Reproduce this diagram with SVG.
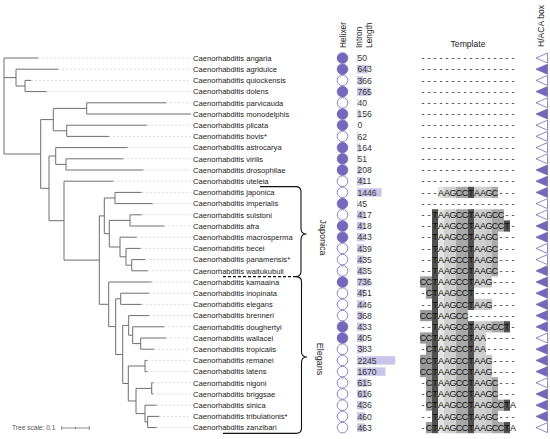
<svg xmlns="http://www.w3.org/2000/svg" xmlns:xlink="http://www.w3.org/1999/xlink" width="550" height="439" viewBox="0 0 550 439">
<style>
text{font-family:"Liberation Sans",Arial,sans-serif}
.nm{font-size:7.6px;fill:#222}
.num{font-size:8.6px;fill:#333}
.tp{font-size:9px;fill:#111;text-anchor:middle}
.hd{font-size:8.4px;fill:#222}
.lbl{font-size:9px;fill:#222;text-anchor:middle}
.bar{fill:#c8c5e8}
.tree{stroke:#6e6e6e;fill:none;stroke-width:1}
.lead{stroke:#c8c8c8;fill:none;stroke-width:0.7;stroke-dasharray:2 2}
.brace{stroke:#111;fill:none;stroke-width:1.1}
.pf{fill:#7567b9;stroke:#7567b9;stroke-width:0.8}
.po{fill:#fff;stroke:#7567b9;stroke-width:0.8}
.s0{fill:#9a9a9a}.s2{fill:#505050}.s3{fill:#e4e4e4}.s4{fill:#d0d0d0}.s6{fill:#a8a8a8}.s9{fill:#cfcfcf}.s11{fill:#c8c8c8}
</style>
<defs>
<circle id="cf" class="pf" cx="342.5" cy="0" r="5.3"/>
<circle id="co" class="po" cx="342.5" cy="0" r="5.3"/>
<polygon id="tf" class="pf" points="536,0 547.5,-5 547.5,5"/>
<polygon id="to" class="po" points="536,0 547.5,-5 547.5,5"/>
</defs>
<rect width="550" height="439" fill="#fff"/>

<g id="headers">
<text class="hd" transform="translate(346,48) rotate(-90)">Helixer</text>
<text class="hd" transform="translate(361.5,48) rotate(-90)">Intron</text>
<text class="hd" transform="translate(372,48) rotate(-90)">Length</text>
<text class="hd" x="468" y="47" text-anchor="middle" style="font-size:8.6px">Template</text>
<text class="hd" transform="translate(544,47) rotate(-90)" style="font-size:8.6px">H/ACA box</text>
</g>

<g id="connectors">
<path class="tree" d="M4 58V154M16 69.2V86M25 80.4V91.6M40.7 119.6V188.3M53.3 108.4V130.8M86.7 102.8V114M66.7 125.2V136.4M49 156V220.7M55.7 147.6V164.4M66 158.8V170M64 181.2V260.1M99.3 215.9V304.3M104.3 198V233.7M115 192.4V203.6M109.3 220.4V247M130 214.8V226M120 237.2V256.8M126 248.4V265.2M131.7 259.6V270.8M108.7 282V326.6M115.7 298.8V354.5M120.7 293.2V304.4M122.7 325.4V383.5M128.7 315.6V335.2M132.7 326.8V343.6M140.7 338V349.2M128.3 366V401M145 360.4V371.6M136 388.4V413.6M151.7 382.8V394M145 405.2V422M147.7 416.4V427.6"/>
<path class="tree" d="M4 77.6H16M16 86H25M4 154H40.7M40.7 119.6H53.3M53.3 108.4H86.7M53.3 130.8H66.7M40.7 188.3H49M49 156H55.7M55.7 164.4H66M49 220.7H64M64 260.1H99.3M99.3 215.9H104.3M104.3 198H115M104.3 233.7H109.3M109.3 220.4H130M109.3 247H120M120 256.8H126M126 265.2H131.7M99.3 304.3H108.7M108.7 326.6H115.7M115.7 298.8H120.7M115.7 354.5H122.7M122.7 325.4H128.7M128.7 335.2H132.7M132.7 343.6H140.7M122.7 383.5H128.3M128.3 366H145M128.3 401H136M136 388.4H151.7M136 413.6H145M145 422H147.7"/>
<path class="tree" d="M4 58H38.3M16 69.2H58.3M25 80.4H31M25 91.6H46.7M86.7 102.8H166M86.7 114H191M66.7 125.2H146.7M66.7 136.4H109M55.7 147.6H127.7M66 158.8H123.3M66 170H143.3M64 181.2H113.3M115 192.4H141.7M115 203.6H152.7M130 214.8H141.7M130 226H164M120 237.2H136.7M126 248.4H140.7M131.7 259.6H145M131.7 270.8H147.7M108.7 282H151.7M120.7 293.2H149M120.7 304.4H141.7M128.7 315.6H149M132.7 326.8H164M140.7 338H166M140.7 349.2H154M145 360.4H147.3M145 371.6H147.3M151.7 382.8H153.3M151.7 394H153.3M145 405.2H156.7M147.7 416.4H159M147.7 427.6H156.7"/>
<path class="lead" d="M38.3 58H191M58.3 69.2H191M31 80.4H191M46.7 91.6H191M166 102.8H191M146.7 125.2H191M109 136.4H191M127.7 147.6H191M123.3 158.8H191M143.3 170H191M113.3 181.2H191M141.7 192.4H191M152.7 203.6H191M141.7 214.8H191M164 226H191M136.7 237.2H191M140.7 248.4H191M145 259.6H191M147.7 270.8H191M151.7 282H191M149 293.2H191M141.7 304.4H191M149 315.6H191M164 326.8H191M166 338H191M154 349.2H191M147.3 360.4H191M147.3 371.6H191M153.3 382.8H191M153.3 394H191M156.7 405.2H191M159 416.4H191M156.7 427.6H191"/>
</g>

<g id="scale">
<text x="12" y="430.2" style="font-size:6.6px;fill:#555">Tree scale: 0.1</text>
<path class="tree" d="M61.7 428H89.3M61.7 426V430M89.3 426V430M75.5 427V429" style="stroke-width:0.8"/>
</g>

<g id="clades">
<path class="brace" d="M260 186.6H296Q301 186.6 301 192V228.5Q301 234 306.5 234Q301 234 301 239.5V271Q301 276.6 296 276.6"/>
<path class="brace" d="M223 276.6H296" style="stroke-dasharray:3 2"/>
<path class="brace" d="M296 276.6Q301.5 276.6 301.5 282V351.5Q301.5 357 307 357Q301.5 357 301.5 362.5V428Q301.5 433.4 296 433.4H223"/>
<text class="lbl" transform="translate(319.5,237.5) rotate(90)">Japonica</text>
<text class="lbl" transform="translate(317,359) rotate(90)">Elegans</text>
</g>

<g id="template-shading">
<rect class="s0" x="420" y="276.4" width="6" height="11.2"/>
<rect class="s0" x="420" y="310" width="6" height="11.2"/>
<rect class="s0" x="420" y="332.4" width="6" height="11.2"/>
<rect class="s0" x="420" y="354.8" width="6" height="22.4"/>
<rect class="s0" x="426" y="276.4" width="6" height="22.4"/>
<rect class="s0" x="426" y="310" width="6" height="11.2"/>
<rect class="s0" x="426" y="332.4" width="6" height="78.4"/>
<rect class="s0" x="426" y="422" width="6" height="11.2"/>
<rect class="s2" x="432" y="209.2" width="6" height="224"/>
<rect class="s3" x="438" y="186.8" width="6" height="11.2"/>
<rect class="s3" x="438" y="209.2" width="6" height="224"/>
<rect class="s4" x="444" y="186.8" width="12" height="11.2"/>
<rect class="s4" x="444" y="209.2" width="12" height="224"/>
<rect class="s6" x="456" y="186.8" width="12" height="11.2"/>
<rect class="s6" x="456" y="209.2" width="12" height="224"/>
<rect class="s2" x="468" y="186.8" width="6" height="11.2"/>
<rect class="s2" x="468" y="209.2" width="6" height="100.8"/>
<rect class="s2" x="468" y="321.2" width="6" height="112"/>
<rect class="s9" x="474" y="186.8" width="12" height="11.2"/>
<rect class="s9" x="474" y="209.2" width="12" height="78.4"/>
<rect class="s9" x="474" y="298.8" width="12" height="11.2"/>
<rect class="s9" x="474" y="321.2" width="12" height="112"/>
<rect class="s11" x="486" y="186.8" width="6" height="11.2"/>
<rect class="s11" x="486" y="209.2" width="6" height="78.4"/>
<rect class="s11" x="486" y="298.8" width="6" height="11.2"/>
<rect class="s11" x="486" y="321.2" width="6" height="11.2"/>
<rect class="s11" x="486" y="354.8" width="6" height="78.4"/>
<rect class="s6" x="492" y="186.8" width="6" height="11.2"/>
<rect class="s6" x="492" y="209.2" width="6" height="67.2"/>
<rect class="s6" x="492" y="321.2" width="6" height="11.2"/>
<rect class="s6" x="492" y="377.2" width="6" height="56"/>
<rect class="s6" x="498" y="209.2" width="6" height="22.4"/>
<rect class="s6" x="498" y="321.2" width="6" height="11.2"/>
<rect class="s6" x="498" y="399.6" width="6" height="11.2"/>
<rect class="s6" x="498" y="422" width="6" height="11.2"/>
<rect class="s2" x="504" y="220.4" width="6" height="11.2"/>
<rect class="s2" x="504" y="321.2" width="6" height="11.2"/>
<rect class="s2" x="504" y="399.6" width="6" height="11.2"/>
<rect class="s2" x="504" y="422" width="6" height="11.2"/>
</g>

<g id="r0" transform="translate(0,58)"><text class="nm" x="193" y="2.7">Caenorhabditis angaria</text><use href="#cf"/><rect class="bar" x="357" y="-4.2" width="0.85" height="8.4"/><text class="num" x="357.5" y="3.1">50</text><text class="tp" x="423 429 435 441 447 453 459 465 471 477 483 489 495 501 507 513" y="3.2">----------------</text><use href="#to"/></g>
<g id="r1" transform="translate(0,69.2)"><text class="nm" x="193" y="2.7">Caenorhabditis agridulce</text><use href="#cf"/><rect class="bar" x="357" y="-4.2" width="10.96" height="8.4"/><text class="num" x="357.5" y="3.1">643</text><text class="tp" x="423 429 435 441 447 453 459 465 471 477 483 489 495 501 507 513" y="3.2">----------------</text><use href="#tf"/></g>
<g id="r2" transform="translate(0,80.4)"><text class="nm" x="193" y="2.7">Caenorhabditis quiockensis</text><use href="#co"/><rect class="bar" x="357" y="-4.2" width="6.24" height="8.4"/><text class="num" x="357.5" y="3.1">366</text><text class="tp" x="423 429 435 441 447 453 459 465 471 477 483 489 495 501 507 513" y="3.2">----------------</text><use href="#to"/></g>
<g id="r3" transform="translate(0,91.6)"><text class="nm" x="193" y="2.7">Caenorhabditis dolens</text><use href="#cf"/><rect class="bar" x="357" y="-4.2" width="13.04" height="8.4"/><text class="num" x="357.5" y="3.1">765</text><text class="tp" x="423 429 435 441 447 453 459 465 471 477 483 489 495 501 507 513" y="3.2">----------------</text><use href="#tf"/></g>
<g id="r4" transform="translate(0,102.8)"><text class="nm" x="193" y="2.7">Caenorhabditis parvicauda</text><use href="#co"/><rect class="bar" x="357" y="-4.2" width="0.68" height="8.4"/><text class="num" x="357.5" y="3.1">40</text><text class="tp" x="423 429 435 441 447 453 459 465 471 477 483 489 495 501 507 513" y="3.2">----------------</text><use href="#to"/></g>
<g id="r5" transform="translate(0,114)"><text class="nm" x="193" y="2.7">Caenorhabditis monodelphis</text><use href="#cf"/><rect class="bar" x="357" y="-4.2" width="2.66" height="8.4"/><text class="num" x="357.5" y="3.1">156</text><text class="tp" x="423 429 435 441 447 453 459 465 471 477 483 489 495 501 507 513" y="3.2">----------------</text><use href="#tf"/></g>
<g id="r6" transform="translate(0,125.2)"><text class="nm" x="193" y="2.7">Caenorhabditis plicata</text><use href="#cf"/><text class="num" x="357.5" y="3.1">0</text><text class="tp" x="423 429 435 441 447 453 459 465 471 477 483 489 495 501 507 513" y="3.2">----------------</text><use href="#to"/></g>
<g id="r7" transform="translate(0,136.4)"><text class="nm" x="193" y="2.7">Caenorhabditis bovis*</text><use href="#co"/><rect class="bar" x="357" y="-4.2" width="1.06" height="8.4"/><text class="num" x="357.5" y="3.1">62</text><text class="tp" x="423 429 435 441 447 453 459 465 471 477 483 489 495 501 507 513" y="3.2">----------------</text><use href="#to"/></g>
<g id="r8" transform="translate(0,147.6)"><text class="nm" x="193" y="2.7">Caenorhabditis astrocarya</text><use href="#cf"/><rect class="bar" x="357" y="-4.2" width="2.8" height="8.4"/><text class="num" x="357.5" y="3.1">164</text><text class="tp" x="423 429 435 441 447 453 459 465 471 477 483 489 495 501 507 513" y="3.2">----------------</text><use href="#to"/></g>
<g id="r9" transform="translate(0,158.8)"><text class="nm" x="193" y="2.7">Caenorhabditis virilis</text><use href="#cf"/><rect class="bar" x="357" y="-4.2" width="0.87" height="8.4"/><text class="num" x="357.5" y="3.1">51</text><text class="tp" x="423 429 435 441 447 453 459 465 471 477 483 489 495 501 507 513" y="3.2">----------------</text><use href="#to"/></g>
<g id="r10" transform="translate(0,170)"><text class="nm" x="193" y="2.7">Caenorhabditis drosophilae</text><use href="#cf"/><rect class="bar" x="357" y="-4.2" width="3.55" height="8.4"/><text class="num" x="357.5" y="3.1">208</text><text class="tp" x="423 429 435 441 447 453 459 465 471 477 483 489 495 501 507 513" y="3.2">----------------</text><use href="#tf"/></g>
<g id="r11" transform="translate(0,181.2)"><text class="nm" x="193" y="2.7">Caenorhabditis uteleia</text><use href="#co"/><rect class="bar" x="357" y="-4.2" width="7.01" height="8.4"/><text class="num" x="357.5" y="3.1">411</text><text class="tp" x="423 429 435 441 447 453 459 465 471 477 483 489 495 501 507 513" y="3.2">----------------</text><use href="#tf"/></g>
<g id="r12" transform="translate(0,192.4)"><text class="nm" x="193" y="2.7">Caenorhabditis japonica</text><use href="#co"/><rect class="bar" x="357" y="-4.2" width="24.65" height="8.4"/><text class="num" x="357.5" y="3.1">1446</text><text class="tp" x="423 429 435 441 447 453 459 465 471 477 483 489 495 501 507 513" y="3.2">---AAGCCTAAGC---</text><use href="#tf"/></g>
<g id="r13" transform="translate(0,203.6)"><text class="nm" x="193" y="2.7">Caenorhabditis imperialis</text><use href="#cf"/><rect class="bar" x="357" y="-4.2" width="0.77" height="8.4"/><text class="num" x="357.5" y="3.1">45</text><text class="tp" x="423 429 435 441 447 453 459 465 471 477 483 489 495 501 507 513" y="3.2">----------------</text><use href="#to"/></g>
<g id="r14" transform="translate(0,214.8)"><text class="nm" x="193" y="2.7">Caenorhabditis sulstoni</text><use href="#co"/><rect class="bar" x="357" y="-4.2" width="7.11" height="8.4"/><text class="num" x="357.5" y="3.1">417</text><text class="tp" x="423 429 435 441 447 453 459 465 471 477 483 489 495 501 507 513" y="3.2">--TAAGCCTAAGCC--</text><use href="#to"/></g>
<g id="r15" transform="translate(0,226)"><text class="nm" x="193" y="2.7">Caenorhabditis afra</text><use href="#cf"/><rect class="bar" x="357" y="-4.2" width="7.13" height="8.4"/><text class="num" x="357.5" y="3.1">418</text><text class="tp" x="423 429 435 441 447 453 459 465 471 477 483 489 495 501 507 513" y="3.2">--TAAGCCTAAGCCT-</text><use href="#tf"/></g>
<g id="r16" transform="translate(0,237.2)"><text class="nm" x="193" y="2.7">Caenorhabditis macrosperma</text><use href="#cf"/><rect class="bar" x="357" y="-4.2" width="7.55" height="8.4"/><text class="num" x="357.5" y="3.1">443</text><text class="tp" x="423 429 435 441 447 453 459 465 471 477 483 489 495 501 507 513" y="3.2">--TAAGCCTAAGC---</text><use href="#tf"/></g>
<g id="r17" transform="translate(0,248.4)"><text class="nm" x="193" y="2.7">Caenorhabditis becei</text><use href="#co"/><rect class="bar" x="357" y="-4.2" width="7.48" height="8.4"/><text class="num" x="357.5" y="3.1">439</text><text class="tp" x="423 429 435 441 447 453 459 465 471 477 483 489 495 501 507 513" y="3.2">--TAAGCCTAAGC---</text><use href="#to"/></g>
<g id="r18" transform="translate(0,259.6)"><text class="nm" x="193" y="2.7">Caenorhabditis panamensis*</text><use href="#co"/><rect class="bar" x="357" y="-4.2" width="7.42" height="8.4"/><text class="num" x="357.5" y="3.1">435</text><text class="tp" x="423 429 435 441 447 453 459 465 471 477 483 489 495 501 507 513" y="3.2">--TAAGCCTAAGC---</text><use href="#to"/></g>
<g id="r19" transform="translate(0,270.8)"><text class="nm" x="193" y="2.7">Caenorhabditis waitukubuli</text><use href="#co"/><rect class="bar" x="357" y="-4.2" width="7.42" height="8.4"/><text class="num" x="357.5" y="3.1">435</text><text class="tp" x="423 429 435 441 447 453 459 465 471 477 483 489 495 501 507 513" y="3.2">--TAAGCCTAAGC---</text><use href="#tf"/></g>
<g id="r20" transform="translate(0,282)"><text class="nm" x="193" y="2.7">Caenorhabditis kamaaina</text><use href="#cf"/><rect class="bar" x="357" y="-4.2" width="12.55" height="8.4"/><text class="num" x="357.5" y="3.1">736</text><text class="tp" x="423 429 435 441 447 453 459 465 471 477 483 489 495 501 507 513" y="3.2">CCTAAGCCTAAG----</text><use href="#tf"/></g>
<g id="r21" transform="translate(0,293.2)"><text class="nm" x="193" y="2.7">Caenorhabditis inopinata</text><use href="#co"/><rect class="bar" x="357" y="-4.2" width="7.69" height="8.4"/><text class="num" x="357.5" y="3.1">451</text><text class="tp" x="423 429 435 441 447 453 459 465 471 477 483 489 495 501 507 513" y="3.2">-CTAAGCCT-------</text><use href="#tf"/></g>
<g id="r22" transform="translate(0,304.4)"><text class="nm" x="193" y="2.7">Caenorhabditis elegans</text><use href="#co"/><rect class="bar" x="357" y="-4.2" width="7.6" height="8.4"/><text class="num" x="357.5" y="3.1">446</text><text class="tp" x="423 429 435 441 447 453 459 465 471 477 483 489 495 501 507 513" y="3.2">--TAAGCCTAAG----</text><use href="#tf"/></g>
<g id="r23" transform="translate(0,315.6)"><text class="nm" x="193" y="2.7">Caenorhabditis brenneri</text><use href="#co"/><rect class="bar" x="357" y="-4.2" width="6.27" height="8.4"/><text class="num" x="357.5" y="3.1">368</text><text class="tp" x="423 429 435 441 447 453 459 465 471 477 483 489 495 501 507 513" y="3.2">CCTAAGCC--------</text><use href="#tf"/></g>
<g id="r24" transform="translate(0,326.8)"><text class="nm" x="193" y="2.7">Caenorhabditis doughertyi</text><use href="#cf"/><rect class="bar" x="357" y="-4.2" width="7.38" height="8.4"/><text class="num" x="357.5" y="3.1">433</text><text class="tp" x="423 429 435 441 447 453 459 465 471 477 483 489 495 501 507 513" y="3.2">--TAAGCCTAAGCCT-</text><use href="#tf"/></g>
<g id="r25" transform="translate(0,338)"><text class="nm" x="193" y="2.7">Caenorhabditis wallacei</text><use href="#cf"/><rect class="bar" x="357" y="-4.2" width="6.91" height="8.4"/><text class="num" x="357.5" y="3.1">405</text><text class="tp" x="423 429 435 441 447 453 459 465 471 477 483 489 495 501 507 513" y="3.2">CCTAAGCCTAA-----</text><use href="#to"/></g>
<g id="r26" transform="translate(0,349.2)"><text class="nm" x="193" y="2.7">Caenorhabditis tropicalis</text><use href="#co"/><rect class="bar" x="357" y="-4.2" width="6.53" height="8.4"/><text class="num" x="357.5" y="3.1">383</text><text class="tp" x="423 429 435 441 447 453 459 465 471 477 483 489 495 501 507 513" y="3.2">-CTAAGCCTAA-----</text><use href="#tf"/></g>
<g id="r27" transform="translate(0,360.4)"><text class="nm" x="193" y="2.7">Caenorhabditis remanei</text><use href="#co"/><rect class="bar" x="357" y="-4.2" width="38.28" height="8.4"/><text class="num" x="357.5" y="3.1">2245</text><text class="tp" x="423 429 435 441 447 453 459 465 471 477 483 489 495 501 507 513" y="3.2">CCTAAGCCTAAG----</text><use href="#tf"/></g>
<g id="r28" transform="translate(0,371.6)"><text class="nm" x="193" y="2.7">Caenorhabditis latens</text><use href="#co"/><rect class="bar" x="357" y="-4.2" width="28.47" height="8.4"/><text class="num" x="357.5" y="3.1">1670</text><text class="tp" x="423 429 435 441 447 453 459 465 471 477 483 489 495 501 507 513" y="3.2">CCTAAGCCTAAG----</text><use href="#tf"/></g>
<g id="r29" transform="translate(0,382.8)"><text class="nm" x="193" y="2.7">Caenorhabditis nigoni</text><use href="#co"/><rect class="bar" x="357" y="-4.2" width="10.49" height="8.4"/><text class="num" x="357.5" y="3.1">615</text><text class="tp" x="423 429 435 441 447 453 459 465 471 477 483 489 495 501 507 513" y="3.2">-CTAAGCCTAAGC---</text><use href="#to"/></g>
<g id="r30" transform="translate(0,394)"><text class="nm" x="193" y="2.7">Caenorhabditis briggsae</text><use href="#co"/><rect class="bar" x="357" y="-4.2" width="10.5" height="8.4"/><text class="num" x="357.5" y="3.1">616</text><text class="tp" x="423 429 435 441 447 453 459 465 471 477 483 489 495 501 507 513" y="3.2">-CTAAGCCTAAGC---</text><use href="#tf"/></g>
<g id="r31" transform="translate(0,405.2)"><text class="nm" x="193" y="2.7">Caenorhabditis sinica</text><use href="#co"/><rect class="bar" x="357" y="-4.2" width="7.43" height="8.4"/><text class="num" x="357.5" y="3.1">436</text><text class="tp" x="423 429 435 441 447 453 459 465 471 477 483 489 495 501 507 513" y="3.2">-CTAAGCCTAAGCCTA</text><use href="#tf"/></g>
<g id="r32" transform="translate(0,416.4)"><text class="nm" x="193" y="2.7">Caenorhabditis tribulationis*</text><use href="#co"/><rect class="bar" x="357" y="-4.2" width="7.84" height="8.4"/><text class="num" x="357.5" y="3.1">460</text><text class="tp" x="423 429 435 441 447 453 459 465 471 477 483 489 495 501 507 513" y="3.2">--TAAGCCTAAGC---</text><use href="#tf"/></g>
<g id="r33" transform="translate(0,427.6)"><text class="nm" x="193" y="2.7">Caenorhabditis zanzibari</text><use href="#co"/><rect class="bar" x="357" y="-4.2" width="7.89" height="8.4"/><text class="num" x="357.5" y="3.1">463</text><text class="tp" x="423 429 435 441 447 453 459 465 471 477 483 489 495 501 507 513" y="3.2">-CTAAGCCTAAGCCTA</text><use href="#to"/></g>
</svg>
